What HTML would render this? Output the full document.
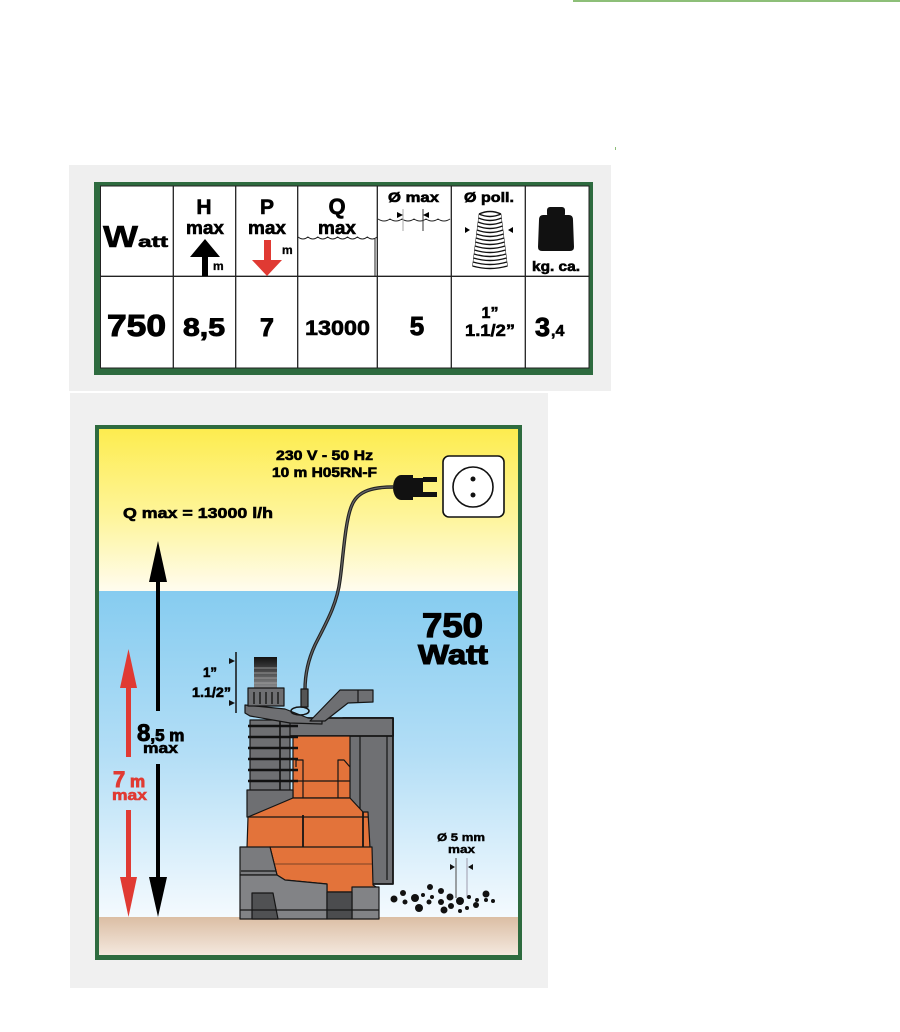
<!DOCTYPE html>
<html><head><meta charset="utf-8"><style>
html,body{margin:0;padding:0;background:#fff;width:900px;height:1032px;overflow:hidden}
svg{display:block}
text{font-family:"Liberation Sans",Arial,sans-serif;font-weight:bold;stroke:#000;stroke-width:0.6px;paint-order:stroke}
text.r{stroke:#e03a33}
</style></head><body>
<svg width="900" height="1032" viewBox="0 0 900 1032" xmlns="http://www.w3.org/2000/svg">
<defs>
<linearGradient id="gy" x1="0" y1="0" x2="0" y2="1"><stop offset="0" stop-color="#fdec4f"/><stop offset="0.55" stop-color="#fef59c"/><stop offset="1" stop-color="#fffcef"/></linearGradient>
<linearGradient id="gb" x1="0" y1="0" x2="0" y2="1"><stop offset="0" stop-color="#86ccf0"/><stop offset="0.5" stop-color="#b3def6"/><stop offset="1" stop-color="#f4fafe"/></linearGradient>
<linearGradient id="gg" x1="0" y1="0" x2="0" y2="1"><stop offset="0" stop-color="#dbbea4"/><stop offset="1" stop-color="#f4e8de"/></linearGradient>
<linearGradient id="go" x1="0" y1="0" x2="0" y2="1"><stop offset="0" stop-color="#111"/><stop offset="1" stop-color="#8a8b8d"/></linearGradient>
</defs>
<rect x="573" y="0" width="327" height="2" fill="#8dbf78"/>
<rect x="615" y="147" width="1" height="3" fill="#8dbf78"/>

<!-- TABLE PANEL -->
<rect x="69" y="165" width="542" height="226" fill="#efefef"/>
<rect x="94" y="182" width="499" height="193" fill="#2e6b3f"/>
<rect x="100.5" y="186" width="488.5" height="182" fill="#fff" stroke="#222" stroke-width="1"/>
<g stroke="#222" stroke-width="1.3">
<line x1="173.3" y1="186" x2="173.3" y2="368"/>
<line x1="235.7" y1="186" x2="235.7" y2="368"/>
<line x1="297.7" y1="186" x2="297.7" y2="368"/>
<line x1="377.3" y1="186" x2="377.3" y2="368"/>
<line x1="451.3" y1="186" x2="451.3" y2="368"/>
<line x1="525.3" y1="186" x2="525.3" y2="368"/>
<line x1="100" y1="276.3" x2="589" y2="276.3"/>
<line x1="375" y1="239" x2="375" y2="276" stroke-width="1"/>
</g>
<text x="103" y="247" font-size="31" textLength="35" lengthAdjust="spacingAndGlyphs">W</text>
<text x="138" y="247" font-size="16" textLength="30" lengthAdjust="spacingAndGlyphs">att</text>
<text x="204" y="214" font-size="21" text-anchor="middle">H</text>
<text x="186" y="234" font-size="18" textLength="38" lengthAdjust="spacingAndGlyphs">max</text>
<polygon points="205,239 220,257 208,257 208,276 202,276 202,257 190,257" fill="#000"/>
<text x="213" y="270" font-size="12" style="stroke-width:0.3px">m</text>
<text x="267" y="214" font-size="21" text-anchor="middle">P</text>
<text x="248" y="234" font-size="18" textLength="38" lengthAdjust="spacingAndGlyphs">max</text>
<polygon points="264,240 271,240 271,260 282,260 267,276 252,260 264,260" fill="#e03a33"/>
<text x="282" y="254" font-size="12" style="stroke-width:0.3px">m</text>
<text x="337" y="214" font-size="22" text-anchor="middle">Q</text>
<text x="318" y="234" font-size="18" textLength="38" lengthAdjust="spacingAndGlyphs">max</text>
<path d="M298,237 q4.95,4 9.9,0 q4.95,4 9.9,0 q4.95,4 9.9,0 q4.95,4 9.9,0 q4.95,4 9.9,0 q4.95,4 9.9,0 q4.95,4 9.9,0 q4.95,4 9.9,0" fill="none" stroke="#222" stroke-width="1"/>
<text x="388" y="202" font-size="14" textLength="51" lengthAdjust="spacingAndGlyphs">Ø max</text>
<path d="M378,219 q6,4 12,0 q6,4 12,0 q6,4 12,0 q6,4 12,0 q6,4 12,0 q6,4 12,0" fill="none" stroke="#222" stroke-width="1"/>
<line x1="403" y1="209" x2="403" y2="231" stroke="#aaa" stroke-width="1"/>
<line x1="423" y1="209" x2="423" y2="231" stroke="#333" stroke-width="1"/>
<polygon points="397,212 403,215 397,218" fill="#000"/>
<polygon points="429,212 423,215 429,218" fill="#000"/>
<text x="464" y="202" font-size="14" textLength="50" lengthAdjust="spacingAndGlyphs">Ø poll.</text>
<g fill="none" stroke="#111" stroke-width="1.4">
<path d="M479,214 Q490,209 501,214"/>
<path d="M479,214 Q490,219 501,214"/>
<path d="M478.5,218 Q490,223 501.5,218"/>
<path d="M478,222 Q490,227 502,222"/>
<path d="M477.5,226 Q490,231 502.5,226"/>
<path d="M477,230 Q490,235 503,230"/>
<path d="M476.5,234 Q490,239 503.5,234"/>
<path d="M476,238 Q490,243 504,238"/>
<path d="M475.5,242 Q490,247 504.5,242"/>
<path d="M475,246 Q490,251 505,246"/>
<path d="M474.5,250 Q490,255 505.5,250"/>
<path d="M474,254 Q490,259 506,254"/>
<path d="M473.5,258 Q490,263 506.5,258"/>
<path d="M473,262 Q490,267 507,262"/>
<path d="M472.5,266 Q490,271 507.5,266"/>
<path d="M479,214 L472.5,266 M501,214 L507.5,266" stroke-width="0.5"/>
</g>
<polygon points="465,227 470,230 465,233" fill="#000"/>
<polygon points="513,227 508,230 513,233" fill="#000"/>
<rect x="547" y="207" width="18" height="10" rx="3" fill="#111"/>
<path d="M543,215 L569,215 Q573,215 573,220 L574,247 Q574,251 570,251 L542,251 Q538,251 538,247 L539,220 Q539,215 543,215 Z" fill="#111"/>
<text x="532" y="271" font-size="14" textLength="48" lengthAdjust="spacingAndGlyphs">kg. ca.</text>

<text x="107" y="336" font-size="31" textLength="59" lengthAdjust="spacingAndGlyphs" style="stroke-width:1px">750</text>
<text x="183" y="336" font-size="25" textLength="42" lengthAdjust="spacingAndGlyphs" style="stroke-width:0.9px">8,5</text>
<text x="267" y="336" font-size="25" text-anchor="middle" style="stroke-width:0.9px">7</text>
<text x="305" y="335" font-size="21" textLength="65" lengthAdjust="spacingAndGlyphs">13000</text>
<text x="417" y="335" font-size="26" text-anchor="middle" style="stroke-width:0.9px">5</text>
<text x="490" y="318" font-size="16" text-anchor="middle">1”</text>
<text x="465" y="336" font-size="17" textLength="50" lengthAdjust="spacingAndGlyphs">1.1/2”</text>
<text x="535" y="336" font-size="26" textLength="15" lengthAdjust="spacingAndGlyphs" style="stroke-width:0.9px">3</text>
<text x="551" y="336" font-size="16">,4</text>

<!-- DIAGRAM PANEL -->
<rect x="70" y="393" width="478" height="595" fill="#f0f0f0"/>
<rect x="95" y="425" width="427" height="535" fill="#2e6b3f"/>
<rect x="99" y="429" width="419" height="162" fill="url(#gy)"/>
<rect x="99" y="591" width="419" height="326" fill="url(#gb)"/>
<rect x="99" y="917" width="419" height="38" fill="url(#gg)"/>

<text x="276" y="460" font-size="13.5" textLength="97" lengthAdjust="spacingAndGlyphs">230 V - 50 Hz</text>
<text x="272" y="477" font-size="13.5" textLength="105" lengthAdjust="spacingAndGlyphs">10 m H05RN-F</text>
<text x="123" y="518" font-size="15" textLength="150" lengthAdjust="spacingAndGlyphs">Q max = 13000 l/h</text>

<!-- outlet & plug -->
<rect x="443" y="456" width="61" height="61" rx="6" fill="#fff" stroke="#111" stroke-width="1.6"/>
<circle cx="473" cy="487" r="20" fill="none" stroke="#111" stroke-width="1.6"/>
<circle cx="473" cy="479" r="2.5" fill="#111"/>
<circle cx="473" cy="495" r="2.5" fill="#111"/>
<path d="M393,487 C375,487 358,490 352,505 C345,520 343,560 340,580 C337,605 325,625 315,645 C308,660 305,675 305,690" fill="none" stroke="#222" stroke-width="3.4"/>
<path d="M393,487 C375,487 358,490 352,505 C345,520 343,560 340,580 C337,605 325,625 315,645 C308,660 305,675 305,690" fill="none" stroke="#666" stroke-width="1.2"/>
<path d="M401,475 L413,475 L413,500 L401,500 A8,12.5 0 0 1 401,475 Z" fill="#111"/>
<rect x="413" y="478" width="10" height="19" fill="#111"/>
<rect x="423" y="477" width="14" height="5" fill="#111"/>
<rect x="423" y="492" width="14" height="5" fill="#111"/>

<text x="422" y="637" font-size="34" textLength="61" lengthAdjust="spacingAndGlyphs" style="stroke-width:1.2px">750</text>
<text x="418" y="664" font-size="28" textLength="70" lengthAdjust="spacingAndGlyphs" style="stroke-width:1.1px">Watt</text>

<!-- black arrow -->
<polygon points="158,541 167,582 149,582" fill="#000"/>
<rect x="156" y="580" width="4" height="131" fill="#000"/>
<rect x="156" y="764" width="4" height="115" fill="#000"/>
<polygon points="149,877 167,877 158,917" fill="#000"/>
<!-- red arrow -->
<polygon points="128.5,649 137,688 120,688" fill="#e03a33"/>
<rect x="126" y="686" width="5" height="71" fill="#e03a33"/>
<rect x="126" y="810" width="5" height="69" fill="#e03a33"/>
<polygon points="120,877 137,877 128.5,917" fill="#e03a33"/>

<text x="137" y="741" font-size="24" style="stroke-width:0.9px">8<tspan font-size="17">,5 m</tspan></text>
<text x="143" y="753" font-size="15" textLength="35" lengthAdjust="spacingAndGlyphs">max</text>
<text class="r" x="113" y="787" font-size="22" fill="#e03a33" style="stroke-width:0.9px">7<tspan font-size="17"> m</tspan></text>
<text class="r" x="112" y="800" font-size="15" fill="#e03a33" textLength="35" lengthAdjust="spacingAndGlyphs">max</text>

<!-- outlet dimension -->
<line x1="236" y1="652" x2="236" y2="713" stroke="#111" stroke-width="1.5"/>
<polygon points="229,658 235,661 229,664" fill="#111"/>
<polygon points="229,700 235,703 229,706" fill="#111"/>
<text x="203" y="677" font-size="14" textLength="14" lengthAdjust="spacingAndGlyphs">1”</text>
<text x="192" y="697" font-size="14" textLength="39" lengthAdjust="spacingAndGlyphs">1.1/2”</text>

<!-- PUMP -->
<g stroke="#151515" stroke-width="1.2" stroke-linejoin="round">
<rect x="343" y="718" width="50" height="166" fill="#6f7073" stroke-width="1.8"/>
<line x1="360" y1="722" x2="360" y2="880"/>
<line x1="387" y1="722" x2="387" y2="880"/>
<rect x="288" y="718" width="105" height="18" fill="#707174" stroke-width="1.8"/>
<rect x="250" y="720" width="40" height="71" fill="#6e6f72"/>
<rect x="293" y="736" width="57" height="62" fill="#e3733a"/>
<path d="M296,767 L296,760 L303,760 L303,798 M338,798 L338,760 L344,760 L350,767" fill="none"/>
<line x1="296" y1="781" x2="350" y2="781"/>
<polygon points="247,790 293,790 293,798 250,817 247,817" fill="#6e6f72"/>
<polygon points="248,817 293,798 350,798 363,812 368,812 370,848 247,848" fill="#e3733a"/>
<line x1="248" y1="817" x2="368" y2="817"/>
<line x1="303" y1="815" x2="303" y2="848" stroke-width="1.8"/>
<line x1="363" y1="812" x2="363" y2="848" stroke-width="1.8"/>
<polygon points="270,847 372,847 373,885 378,888 378,892 327,892 327,884 285,880 277,875" fill="#e3733a"/>
<line x1="275" y1="864" x2="372" y2="864" stroke-width="0.6"/>
<polygon points="240,847 270,847 277,875 240,875" fill="#7a7b7e"/>
<line x1="241" y1="871" x2="276" y2="871"/>
<polygon points="240,875 277,875 285,880 327,884 327,919 240,919" fill="#828386"/>
<polygon points="352,887 379,887 379,919 352,919" fill="#828386"/>
<rect x="327" y="892" width="25" height="27" fill="#4b4c4e"/>
<polygon points="252,893 273,893 278,919 252,919" fill="#505153"/>
<line x1="240" y1="910" x2="379" y2="910"/>
</g>
<g stroke="#111" stroke-width="2.6">
<line x1="248" y1="726" x2="298" y2="726"/>
<line x1="248" y1="737" x2="298" y2="737"/>
<line x1="248" y1="748" x2="298" y2="748"/>
<line x1="248" y1="759" x2="298" y2="759"/>
<line x1="248" y1="770" x2="298" y2="770"/>
<line x1="248" y1="781" x2="298" y2="781"/>
<line x1="280" y1="720" x2="280" y2="790" stroke-width="1.6"/>
</g>
<g stroke="#151515" stroke-width="1.2" stroke-linejoin="round">
<polygon points="245,705 285,709 308,718 322,719 322,724 290,723 250,716 245,713" fill="#6e6f72"/>
<rect x="254" y="657" width="23" height="31" fill="url(#go)" stroke="none"/>
<g stroke="#aaa" stroke-width="0.8"><line x1="254" y1="668" x2="277" y2="668"/><line x1="254" y1="673" x2="277" y2="673"/><line x1="254" y1="678" x2="277" y2="678"/><line x1="254" y1="683" x2="277" y2="683"/></g>
<rect x="248" y="688" width="36" height="18" fill="#6e6f72"/>
<g stroke="#222" stroke-width="1.6"><line x1="254" y1="692" x2="254" y2="704"/><line x1="260" y1="692" x2="260" y2="704"/><line x1="266" y1="692" x2="266" y2="704"/><line x1="272" y1="692" x2="272" y2="704"/><line x1="278" y1="692" x2="278" y2="704"/></g>
<polygon points="310,721 340,690 373,690 373,702 348,703 325,721" fill="#6e6f72"/>
<line x1="358" y1="690" x2="358" y2="702"/>
<rect x="301" y="689" width="7" height="18" fill="#555"/>
<ellipse cx="300" cy="711" rx="9" ry="4" fill="none" stroke-width="1.6"/>
</g>

<!-- gravel -->
<text x="437" y="841" font-size="11" textLength="48" lengthAdjust="spacingAndGlyphs" style="stroke-width:0.4px">Ø 5 mm</text>
<text x="448" y="853" font-size="11" textLength="27" lengthAdjust="spacingAndGlyphs" style="stroke-width:0.4px">max</text>
<line x1="456" y1="858" x2="456" y2="898" stroke="#666" stroke-width="1.2"/>
<line x1="467" y1="858" x2="467" y2="898" stroke="#aab" stroke-width="1.2"/>
<polygon points="450,864 455,867 450,870" fill="#111"/>
<polygon points="473,864 468,867 473,870" fill="#111"/>
<g fill="#111">
<circle cx="394" cy="899" r="3.5"/><circle cx="403" cy="893" r="3"/><circle cx="405" cy="902" r="2.5"/>
<circle cx="415" cy="898" r="4"/><circle cx="419" cy="908" r="4"/><circle cx="423" cy="895" r="2"/>
<circle cx="430" cy="887" r="3"/><circle cx="429" cy="902" r="2.5"/><circle cx="432" cy="897" r="2"/>
<circle cx="441" cy="891" r="3"/><circle cx="441" cy="902" r="3"/><circle cx="444" cy="910" r="3.5"/>
<circle cx="450" cy="897" r="3.5"/><circle cx="451" cy="906" r="3"/><circle cx="460" cy="901" r="4"/>
<circle cx="460" cy="911" r="2"/><circle cx="467" cy="908" r="2"/><circle cx="469" cy="897" r="2"/>
<circle cx="476" cy="905" r="3"/><circle cx="477" cy="900" r="2"/><circle cx="486" cy="894" r="3.5"/>
<circle cx="486" cy="900" r="2"/><circle cx="493" cy="901" r="2"/>
</g>
</svg>
</body></html>
